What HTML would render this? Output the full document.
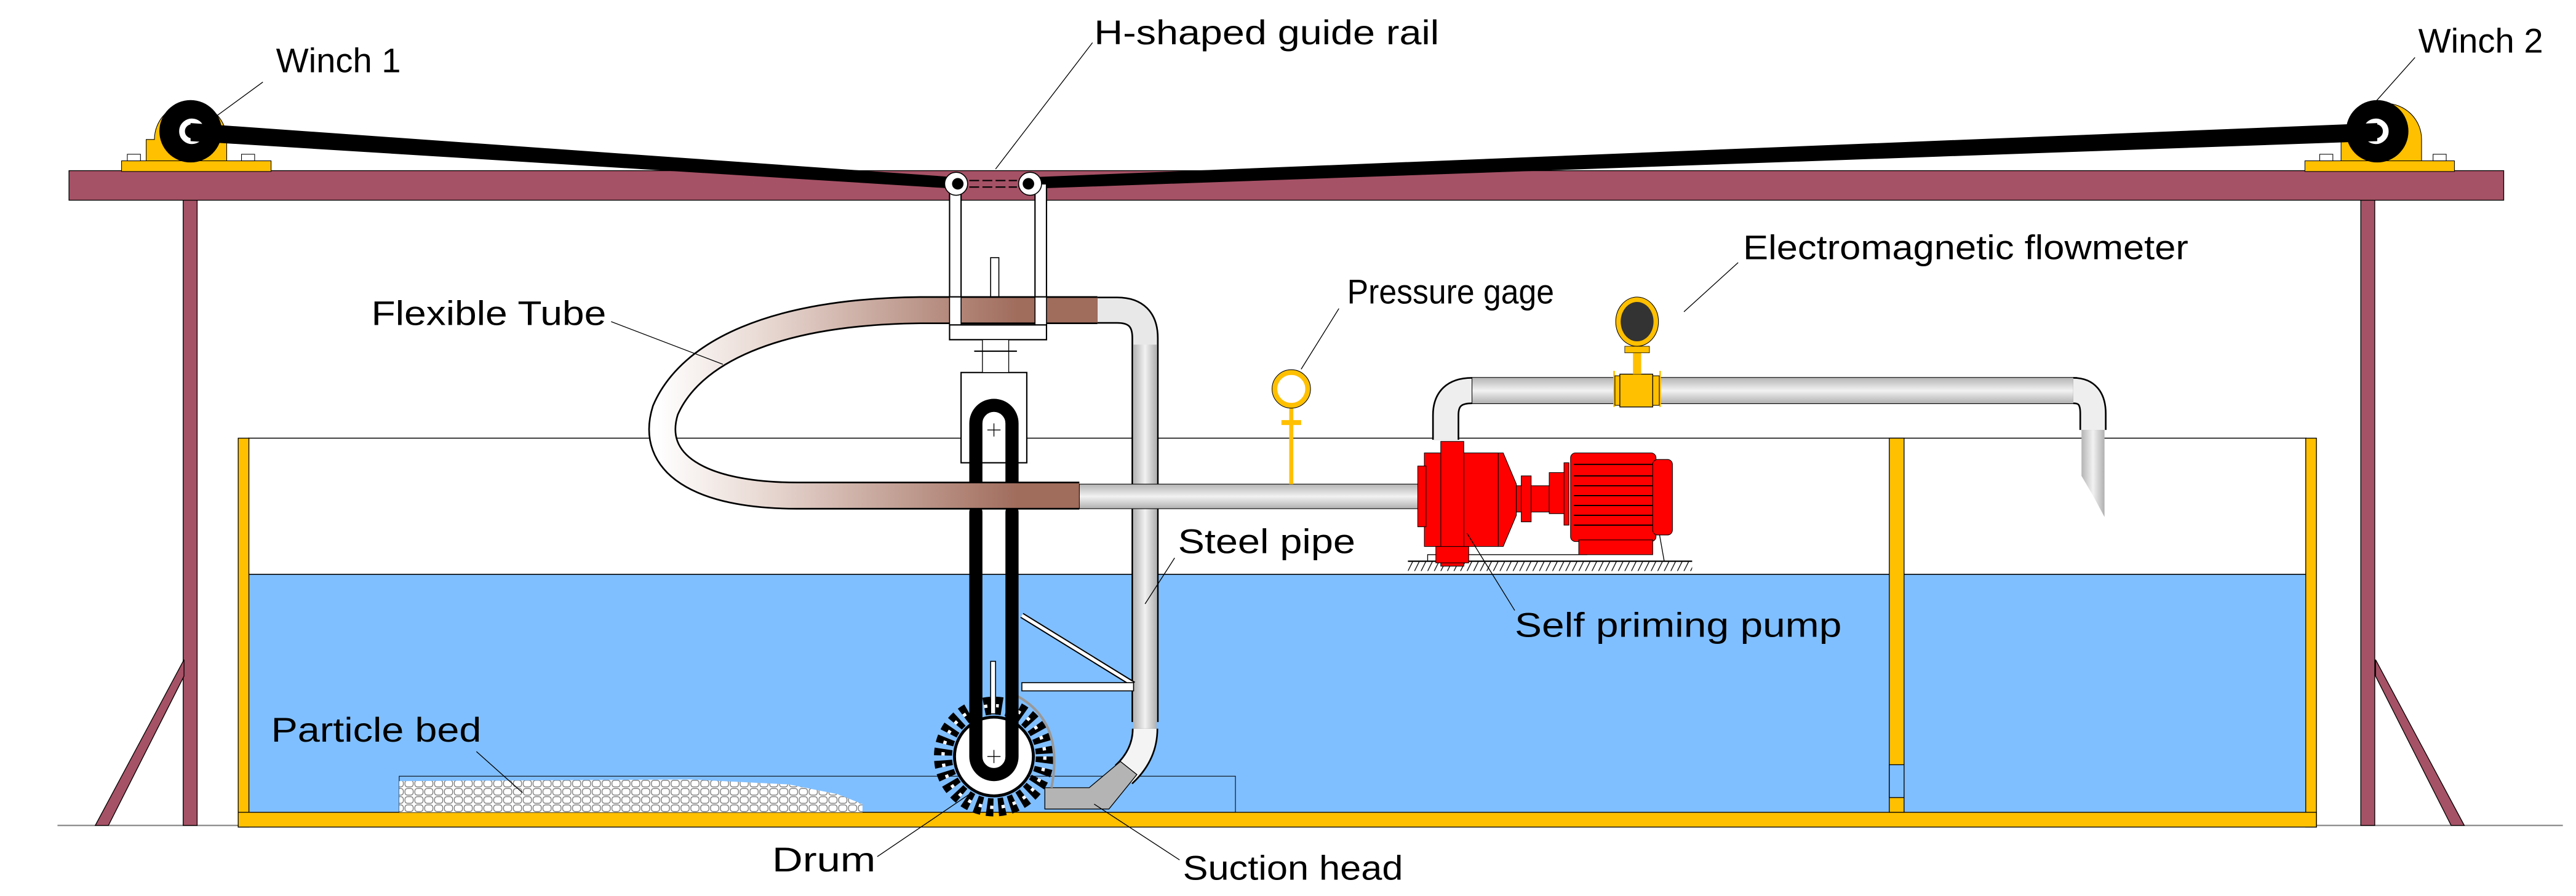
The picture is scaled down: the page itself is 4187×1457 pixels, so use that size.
<!DOCTYPE html>
<html><head><meta charset="utf-8"><style>
html,body{margin:0;padding:0;background:#fff;}
svg{display:block;}
text{font-family:"Liberation Sans",sans-serif;font-size:21px;fill:#000;}
</style></head><body>
<svg width="4187" height="1457" viewBox="0 0 1568 546" preserveAspectRatio="none" xmlns="http://www.w3.org/2000/svg">
<defs>
<linearGradient id="steelV" x1="0" y1="0" x2="0" y2="1"><stop offset="0" stop-color="#b4b4b4"/><stop offset="0.5" stop-color="#f2f2f2"/><stop offset="1" stop-color="#b0b0b0"/></linearGradient>
<linearGradient id="steelH" x1="0" y1="0" x2="1" y2="0"><stop offset="0" stop-color="#b4b4b4"/><stop offset="0.5" stop-color="#f2f2f2"/><stop offset="1" stop-color="#b0b0b0"/></linearGradient>
<linearGradient id="tube" gradientUnits="userSpaceOnUse" x1="400" y1="0" x2="620" y2="0"><stop offset="0" stop-color="#ffffff"/><stop offset="0.3" stop-color="#e8d8d2"/><stop offset="1" stop-color="#a06c5c"/></linearGradient>
<pattern id="peb" width="6" height="5" patternUnits="userSpaceOnUse"><rect width="6" height="5" fill="#fff"/><rect x="0.5" y="0.5" width="5" height="4" rx="1.5" fill="#fff" stroke="#777" stroke-width="0.5"/></pattern>
<pattern id="hatch" width="4" height="6" patternUnits="userSpaceOnUse"><line x1="4" y1="0" x2="1" y2="6" stroke="#000" stroke-width="0.5"/></pattern>
</defs>

<line x1="35" y1="503" x2="1560" y2="503" stroke="#888" stroke-width="0.8"/>

<rect x="111.5" y="121" width="8.5" height="382" fill="#a65266" stroke="#000" stroke-width="0.5"/>
<rect x="1437" y="121" width="8.5" height="382" fill="#a65266" stroke="#000" stroke-width="0.5"/>
<polygon points="112,402 112,412 66,503 58,503" fill="#a65266" stroke="#000" stroke-width="0.5"/>
<polygon points="1446,402 1446,412 1492,503 1500,503" fill="#a65266" stroke="#000" stroke-width="0.5"/>

<rect x="145" y="267" width="1265" height="237" fill="#fff" stroke="none"/>
<rect x="151" y="350" width="1253" height="145" fill="#80bfff"/>
<line x1="151" y1="267" x2="1404" y2="267" stroke="#000" stroke-width="0.6"/>
<line x1="151" y1="350" x2="1404" y2="350" stroke="#000" stroke-width="0.6"/>
<rect x="145" y="267" width="6.5" height="237" fill="#ffc000" stroke="#000" stroke-width="0.5"/>
<rect x="1403.5" y="267" width="6.5" height="237" fill="#ffc000" stroke="#000" stroke-width="0.5"/>
<rect x="145" y="495" width="1265" height="9" fill="#ffc000" stroke="#000" stroke-width="0.5"/>
<rect x="1150" y="267" width="9" height="228" fill="#ffc000" stroke="#000" stroke-width="0.5"/>
<rect x="1150" y="466" width="9" height="20" fill="#80bfff" stroke="#000" stroke-width="0.5"/>

<rect x="243" y="473" width="509" height="22" fill="none" stroke="#000" stroke-width="0.4"/>
<polygon points="243,495 243,476 420,475 480,478 510,484 525,490 525,495" fill="url(#peb)"/>

<rect x="42" y="104" width="1482" height="18" fill="#a65266" stroke="#000" stroke-width="0.5"/>

<rect x="74" y="98" width="91" height="6.5" fill="#ffc000" stroke="#000" stroke-width="0.4"/>
<rect x="77.5" y="94" width="8" height="4" fill="#fff" stroke="#000" stroke-width="0.4"/>
<rect x="147" y="94" width="8" height="4" fill="#fff" stroke="#000" stroke-width="0.4"/>
<path d="M89,98 V85 H94 A22,22 0 0 1 138,85 V98 Z" fill="#ffc000" stroke="#000" stroke-width="0.4"/>
<circle cx="116" cy="80" r="19" fill="#000"/>
<path d="M122,77 A6,6 0 1 0 122,83" fill="none" stroke="#fff" stroke-width="3.5"/>
<rect x="1403" y="98" width="91" height="6.5" fill="#ffc000" stroke="#000" stroke-width="0.4"/>
<rect x="1412" y="94" width="8" height="4" fill="#fff" stroke="#000" stroke-width="0.4"/>
<rect x="1481" y="94" width="8" height="4" fill="#fff" stroke="#000" stroke-width="0.4"/>
<path d="M1425,98 V85 H1430 A22,22 0 0 1 1474,85 V98 Z" fill="#ffc000" stroke="#000" stroke-width="0.4"/>
<circle cx="1447" cy="80" r="19" fill="#000"/>
<path d="M1441,77 A6,6 0 1 1 1441,83" fill="none" stroke="#fff" stroke-width="3.5"/>

<polygon points="116,75 116,86 582,115 582,108" fill="#000"/>
<polygon points="1447,75 1447,86 627,115 627,108" fill="#000"/>

<path d="M578,112 V207 H637 V112 H630 V198 H585 V112 Z" fill="#fff" stroke="#000" stroke-width="0.8"/>
<rect x="603" y="157" width="5" height="40" fill="#fff" stroke="#000" stroke-width="0.6"/>
<circle cx="582" cy="112" r="7" fill="#fff" stroke="#000" stroke-width="0.6"/>
<circle cx="627" cy="112" r="7" fill="#fff" stroke="#000" stroke-width="0.6"/>
<circle cx="583" cy="112" r="3.5" fill="#000"/><circle cx="626" cy="112" r="3.5" fill="#000"/>
<line x1="590" y1="110" x2="619" y2="110" stroke="#000" stroke-width="0.8" stroke-dasharray="6,2"/>
<line x1="590" y1="114" x2="619" y2="114" stroke="#000" stroke-width="0.8" stroke-dasharray="6,2"/>

<path d="M668,189 H680 Q697,189 697,206 V440" fill="none" stroke="#000" stroke-width="16.5"/>
<path d="M668,189 H680 Q697,189 697,206 V440" fill="none" stroke="#e8e8e8" stroke-width="14.5"/>
<rect x="690" y="210" width="14" height="235" fill="url(#steelH)"/>
<path d="M697,444 Q697,460 684,472" fill="none" stroke="#000" stroke-width="16"/>
<path d="M697,444 Q697,460 684,472" fill="none" stroke="#f4f4f4" stroke-width="14"/>
<polygon points="636,480 663,480 682,464 692,472 675,493 636,493" fill="#b4b4b4" stroke="#000" stroke-width="0.5"/>

<line x1="622" y1="375" x2="690" y2="417" stroke="#000" stroke-width="3.5"/>
<line x1="622" y1="375" x2="690" y2="417" stroke="#fff" stroke-width="2"/>
<rect x="622" y="416" width="68" height="5" fill="#fff" stroke="#000" stroke-width="0.6"/>

<rect x="585" y="227" width="40" height="55" fill="#fff" stroke="#000" stroke-width="0.8"/>
<rect x="598" y="207" width="16" height="20" fill="#fff" stroke="#000" stroke-width="0.5"/>
<line x1="593" y1="214" x2="619" y2="214" stroke="#000" stroke-width="0.8"/>

<!-- drum wheel -->
<circle cx="605" cy="461" r="31" fill="none" stroke="#000" stroke-width="11" stroke-dasharray="4,3"/>
<circle cx="605" cy="461" r="31" fill="none" stroke="#fff" stroke-width="2" stroke-dasharray="2,5"/>
<circle cx="605" cy="461" r="24" fill="#fff" stroke="#000" stroke-width="1.8"/>
<path d="M619,424 Q648,440 640,480" fill="none" stroke="#999" stroke-width="1.5"/>
<path d="M594,296 V258 A11,11 0 0 1 616,258 V296" fill="none" stroke="#000" stroke-width="8" stroke-linecap="round"/>
<path d="M594,312 V461 A11,11 0 0 0 616,461 V312" fill="none" stroke="#000" stroke-width="8" stroke-linecap="round"/>
<rect x="603" y="403" width="3" height="32" fill="#fff" stroke="#000" stroke-width="0.6"/>
<line x1="601" y1="461" x2="609" y2="461" stroke="#000" stroke-width="0.5"/><line x1="605" y1="457" x2="605" y2="465" stroke="#000" stroke-width="0.5"/>
<line x1="601" y1="262" x2="609" y2="262" stroke="#000" stroke-width="0.5"/><line x1="605" y1="258" x2="605" y2="266" stroke="#000" stroke-width="0.5"/>

<path d="M668,189 L560,189 C470,190 420,215 405,250 C395,282 425,302 485,302 L657,302" fill="none" stroke="#000" stroke-width="17"/>
<path d="M668,189 L560,189 C470,190 420,215 405,250 C395,282 425,302 485,302 L657,302" fill="none" stroke="url(#tube)" stroke-width="15"/>
<rect x="578" y="181" width="7" height="17" fill="#fff" stroke="#000" stroke-width="0.6"/>
<rect x="630" y="181" width="7" height="17" fill="#fff" stroke="#000" stroke-width="0.6"/>
<line x1="578" y1="198" x2="637" y2="198" stroke="#000" stroke-width="0.8"/>

<rect x="657" y="295" width="208" height="15" fill="url(#steelV)" stroke="#000" stroke-width="0.4"/>

<line x1="786" y1="248" x2="786" y2="295" stroke="#ffc000" stroke-width="2.5"/>
<rect x="780" y="256" width="12" height="3" fill="#ffc000"/>
<circle cx="786" cy="237" r="10" fill="#fff" stroke="#ffc000" stroke-width="3"/>
<circle cx="786" cy="237" r="11.7" fill="none" stroke="#000" stroke-width="0.4"/>

<path d="M880,268 V253 Q880,238 896,238" fill="none" stroke="#000" stroke-width="16.5"/>
<path d="M880,268 V253 Q880,238 896,238" fill="none" stroke="#eee" stroke-width="14.5"/>
<rect x="896" y="230" width="368" height="16" fill="url(#steelV)" stroke="#000" stroke-width="0.4"/>
<path d="M1262,238 Q1274,238 1274,252 V262" fill="none" stroke="#000" stroke-width="16.5"/>
<path d="M1262,238 Q1274,238 1274,252 V262" fill="none" stroke="#eee" stroke-width="14.5"/>
<polygon points="1267,262 1281,262 1281,315 1274,302 1267,290" fill="url(#steelH)"/>
<rect x="982" y="226" width="1" height="22" fill="#ffc000"/>
<rect x="1010" y="226" width="1" height="22" fill="#ffc000"/>
<rect x="983" y="229" width="27" height="18" fill="#ffc000" stroke="#000" stroke-width="0.4"/>
<rect x="986" y="228" width="20" height="20" fill="#ffc000" stroke="#000" stroke-width="0.5"/>
<rect x="994" y="214" width="5" height="14" fill="#ffc000"/>
<rect x="989" y="211" width="15" height="4" fill="#ffc000" stroke="#000" stroke-width="0.3"/>
<ellipse cx="996.5" cy="196" rx="13" ry="15" fill="#ffc000" stroke="#000" stroke-width="0.4"/>
<ellipse cx="996.5" cy="196" rx="10" ry="12" fill="#333"/>

<line x1="857" y1="342" x2="1030" y2="342" stroke="#000" stroke-width="0.8"/>
<rect x="857" y="342" width="173" height="6" fill="url(#hatch)"/>
<polyline points="869,342 869,338 966,338 968,325 1010,325 1013,342" fill="none" stroke="#000" stroke-width="0.5"/>
<g fill="#ff0000" stroke="#000" stroke-width="0.4">
<rect x="867" y="276" width="45" height="57"/>
<rect x="863" y="284" width="5" height="37"/>
<polygon points="912,276 915,276 923,295 923,314 915,333 912,333"/>
<rect x="877" y="269" width="14" height="76"/>
<rect x="874" y="333" width="20" height="10"/>
<rect x="923" y="296" width="20" height="16"/>
<rect x="926" y="290" width="6" height="28"/>
<rect x="943" y="288" width="10" height="25"/>
<rect x="952" y="282" width="3" height="38"/>
<rect x="956" y="276" width="52" height="54" rx="3"/>
<rect x="1006" y="280" width="12" height="46" rx="3"/>
<rect x="961" y="329" width="45" height="9"/>
</g>
<g stroke="#000" stroke-width="0.7">
<line x1="958" y1="283" x2="1006" y2="283"/><line x1="958" y1="290" x2="1006" y2="290"/>
<line x1="958" y1="296" x2="1006" y2="296"/><line x1="958" y1="302" x2="1006" y2="302"/>
<line x1="958" y1="308" x2="1006" y2="308"/><line x1="958" y1="314" x2="1006" y2="314"/>
<line x1="958" y1="320" x2="1006" y2="320"/>
</g>

<g stroke="#000" stroke-width="0.5" fill="none">
<line x1="160" y1="50" x2="130" y2="72"/>
<line x1="1470" y1="35" x2="1446" y2="62"/>
<line x1="665" y1="26" x2="606" y2="103"/>
<line x1="372" y1="196" x2="440" y2="222"/>
<line x1="815" y1="188" x2="792" y2="225"/>
<line x1="1058" y1="160" x2="1025" y2="190"/>
<line x1="715" y1="340" x2="697" y2="368"/>
<line x1="922" y1="372" x2="893" y2="325"/>
<line x1="290" y1="458" x2="318" y2="483"/>
<line x1="534" y1="522" x2="590" y2="484"/>
<line x1="718" y1="524" x2="666" y2="490"/>
</g>

<text x="168" y="44" textLength="76" lengthAdjust="spacingAndGlyphs">Winch 1</text>
<text x="1472" y="32" textLength="76" lengthAdjust="spacingAndGlyphs">Winch 2</text>
<text x="666" y="27" textLength="210" lengthAdjust="spacingAndGlyphs">H-shaped guide rail</text>
<text x="226" y="198" textLength="143" lengthAdjust="spacingAndGlyphs">Flexible Tube</text>
<text x="820" y="185" textLength="126" lengthAdjust="spacingAndGlyphs">Pressure gage</text>
<text x="1061" y="158" textLength="271" lengthAdjust="spacingAndGlyphs">Electromagnetic flowmeter</text>
<text x="717" y="337" textLength="108" lengthAdjust="spacingAndGlyphs">Steel pipe</text>
<text x="922" y="388" textLength="199" lengthAdjust="spacingAndGlyphs">Self priming pump</text>
<text x="165" y="452" textLength="128" lengthAdjust="spacingAndGlyphs">Particle bed</text>
<text x="470" y="531" textLength="63" lengthAdjust="spacingAndGlyphs">Drum</text>
<text x="720" y="536" textLength="134" lengthAdjust="spacingAndGlyphs">Suction head</text>
</svg>
</body></html>
